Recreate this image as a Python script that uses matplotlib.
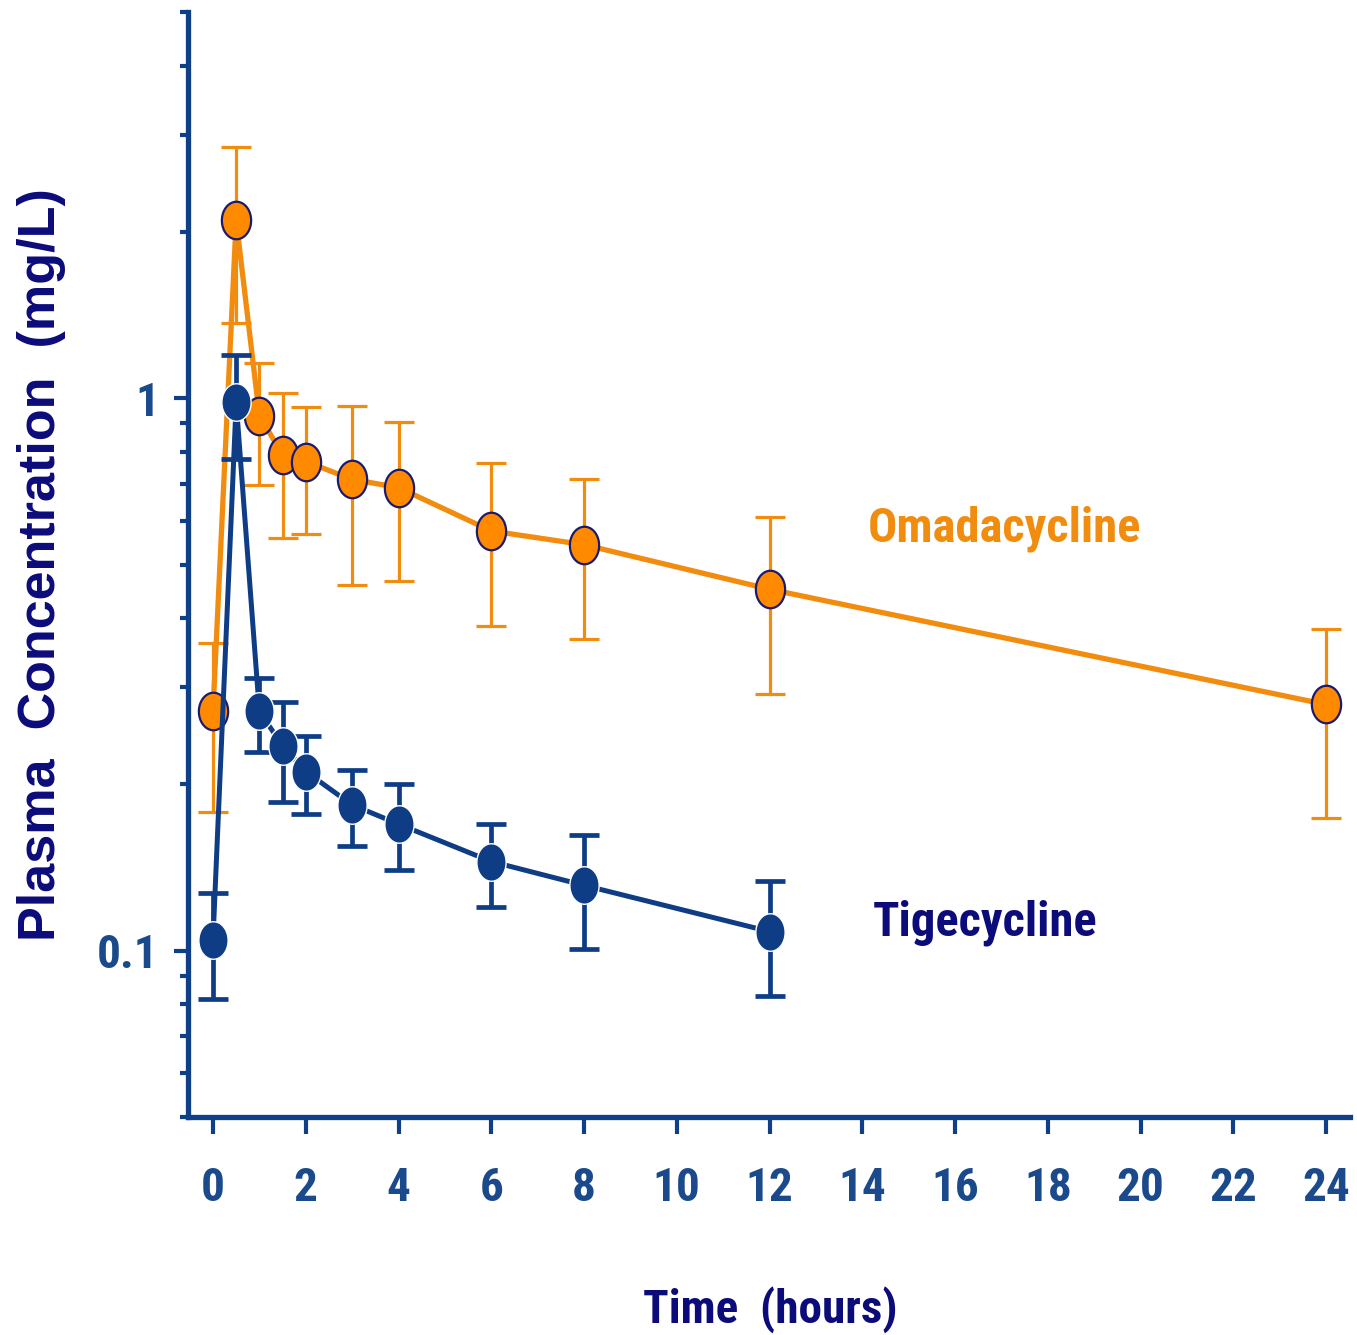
import matplotlib
matplotlib.use("Agg")
import matplotlib.pyplot as plt
import numpy as np
from matplotlib import font_manager as fm
from matplotlib.path import Path
from matplotlib.ticker import FixedLocator, NullFormatter

# data (hours, mg/L)
omada_t = [0, 0.5, 1, 1.5, 2, 3, 4, 6, 8, 12, 24]
omada_mean = [0.271, 2.10, 0.930, 0.790, 0.768, 0.713, 0.689, 0.575, 0.543, 0.451, 0.279]
omada_hi = [0.361, 2.85, 1.16, 1.02, 0.963, 0.967, 0.904, 0.762, 0.715, 0.610, 0.382]
omada_lo = [0.178, 1.37, 0.695, 0.559, 0.568, 0.459, 0.467, 0.387, 0.366, 0.291, 0.174]

tige_t = [0, 0.5, 1, 1.5, 2, 3, 4, 6, 8, 12]
tige_mean = [0.1047, 0.983, 0.271, 0.235, 0.211, 0.1836, 0.1695, 0.145, 0.1313, 0.1083]
tige_hi = [0.127, 1.197, 0.311, 0.282, 0.245, 0.2125, 0.200, 0.1695, 0.162, 0.1335]
tige_lo = [0.0818, 0.775, 0.229, 0.186, 0.177, 0.155, 0.140, 0.1198, 0.1008, 0.0828]

xticks = list(range(0, 25, 2))
ymajor = [0.1, 1]
ymajor_labels = ["0.1", "1"]
yminor = [0.05, 0.06, 0.07, 0.08, 0.09, 0.2, 0.3, 0.4, 0.5, 0.6, 0.7, 0.8, 0.9, 2, 3, 4, 5]

names = {f.name for f in fm.fontManager.ttflist}
narrow = "Liberation Sans"
for cand in ["Liberation Sans Narrow", "Arial Narrow", "Roboto Condensed", "PT Sans Narrow"]:
    if cand in names:
        narrow = cand
        break
wide = "Liberation Sans" if "Liberation Sans" in names else "DejaVu Sans"

axis_blue = "#0F3F86"
navy = "#0B0B7A"
orange = "#F28C0E"
dot_blue = "#0E3D85"

# tall ellipse marker
th = np.linspace(0, 2 * np.pi, 80)
ellipse = Path(np.column_stack([0.78 * np.cos(th), np.sin(th)]), closed=True)

fig = plt.figure(figsize=(13.57, 13.35), dpi=100)
ax = fig.add_axes([0.1385, 0.1633, 0.8565, 0.8277])
ax.set_yscale("log")

om = np.array(omada_mean)
ax.errorbar(omada_t, om, yerr=[om - np.array(omada_lo), np.array(omada_hi) - om],
            fmt="none", ecolor=orange, elinewidth=2.3, capsize=11, capthick=2.3, zorder=2)
ax.plot(omada_t, om, color=orange, lw=3.8, marker=ellipse, ms=27,
        mfc="#FF8A00", mec="#1A1A70", mew=1.6, zorder=3)

tg = np.array(tige_mean)
ax.errorbar(tige_t, tg, yerr=[tg - np.array(tige_lo), np.array(tige_hi) - tg],
            fmt="none", ecolor=dot_blue, elinewidth=3.4, capsize=11, capthick=3.4, zorder=4)
ax.plot(tige_t, tg, color=dot_blue, lw=3.6, marker=ellipse, ms=27,
        mfc=dot_blue, mec="white", mew=1.0, zorder=5)

ax.text(17.07, 0.580, "Omadacycline", color=orange, fontsize=35, fontweight="bold",
        family=narrow, ha="center", va="center")
ax.text(16.64, 0.1125, "Tigecycline", color=navy, fontsize=35, fontweight="bold",
        family=narrow, ha="center", va="center")

ax.set_xlim(-0.54, 24.52)
ax.set_ylim(0.05, 5)
ax.set_xticks(xticks)
ax.set_xticklabels([str(x) for x in xticks])
ax.yaxis.set_major_locator(FixedLocator(ymajor))
ax.set_yticklabels(ymajor_labels)
ax.yaxis.set_minor_locator(FixedLocator(yminor))
ax.yaxis.set_minor_formatter(NullFormatter())

for s in ["top", "right"]:
    ax.spines[s].set_visible(False)
for s in ["left", "bottom"]:
    ax.spines[s].set_color(axis_blue)
    ax.spines[s].set_linewidth(3.8)

ax.tick_params(axis="x", which="major", length=12, width=3, color=axis_blue, pad=23,
               labelsize=34, labelcolor="#1B4A8C")
ax.tick_params(axis="y", which="major", length=10, width=3, color=axis_blue, pad=11,
               labelsize=34, labelcolor="#1B4A8C")
ax.tick_params(axis="y", which="minor", length=6, width=3, color=axis_blue)
for lab in ax.get_xticklabels() + ax.get_yticklabels():
    lab.set_family(narrow)
    lab.set_fontweight("bold")

fig.text(770 / 1357, 1 - 1310 / 1335, "Time  (hours)", color=navy, fontsize=34,
         fontweight="bold", family=narrow, ha="center", va="center")
fig.text(42 / 1357, 1 - 565 / 1335, "Plasma  Concentration  (mg/L)", color=navy,
         fontsize=37.5, fontweight="bold", family=wide, ha="center", va="center",
         rotation=90)

fig.savefig("out.png", dpi=100)
